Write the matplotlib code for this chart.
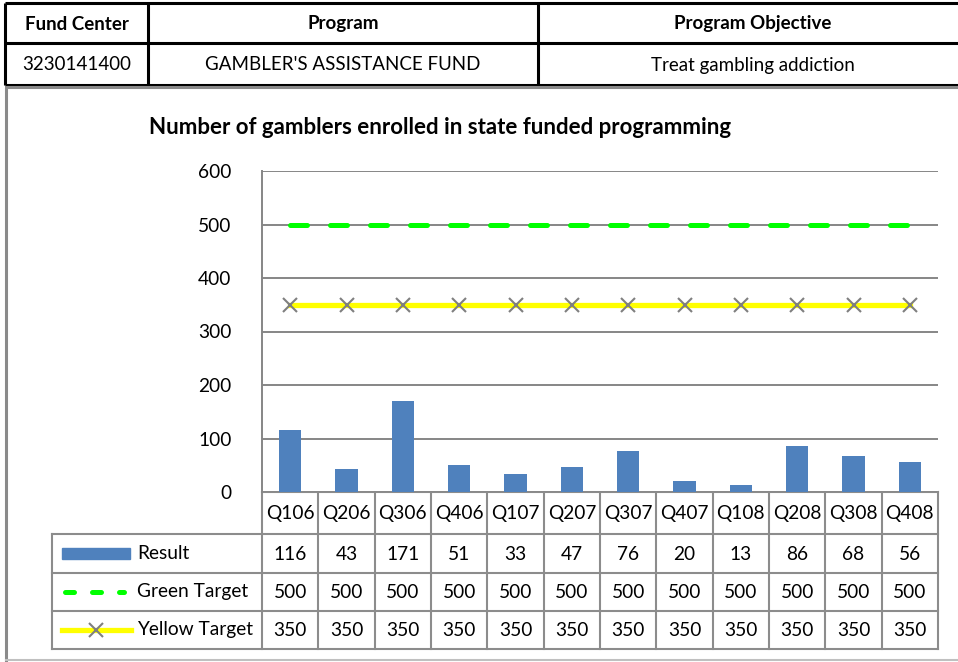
import matplotlib
matplotlib.use("Agg")
import matplotlib.pyplot as plt
from matplotlib.transforms import blended_transform_factory

plt.rcParams['font.family'] = ['Lato', 'DejaVu Sans']

# header table
header_cols = ["Fund Center", "Program", "Program Objective"]
header_vals = ["3230141400", "GAMBLER'S ASSISTANCE FUND", "Treat gambling addiction"]

# chart data
title = "Number of gamblers enrolled in state funded programming"
quarters = ["Q106", "Q206", "Q306", "Q406", "Q107", "Q207", "Q307", "Q407",
            "Q108", "Q208", "Q308", "Q408"]
result = [116, 43, 171, 51, 33, 47, 76, 20, 13, 86, 68, 56]
green_target = [500] * 12
yellow_target = [350] * 12
y_ticks = [0, 100, 200, 300, 400, 500, 600]

BLUE = "#4F81BD"
GREEN = "#00FF00"
YELLOW = "#FFFF00"
GRID = "#868686"
W, H = 958, 662
FS = 13.8

fig = plt.figure(figsize=(W / 100, H / 100), dpi=100)

# overlay in pixel coordinates for the frame / header / table lines
ov = fig.add_axes([0, 0, 1, 1])
ov.set_xlim(0, W)
ov.set_ylim(H, 0)
ov.axis("off")

# header table
col_x = [5, 148, 538, 968]
row_y = [3, 43, 85]
for y in row_y:
    ov.plot([col_x[0], W + 5], [y, y], color="black", lw=2.2, solid_capstyle="butt")
for x in col_x[:-1]:
    ov.plot([x, x], [row_y[0], row_y[-1]], color="black", lw=2.2, solid_capstyle="butt")
for i in range(3):
    cx = (col_x[i] + col_x[i + 1]) / 2
    ov.text(cx, 24, header_cols[i], ha="center", va="center", fontsize=13.5, fontweight="bold")
    ov.text(cx, 65, header_vals[i], ha="center", va="center", fontsize=13.5)

# chart frame
ov.plot([6, 6, W + 5], [660, 87, 87], color="#8a8a8a", lw=2.2)
ov.plot([6, W + 5], [660, 660], color="#c0c0c0", lw=1.5)

ov.text(440, 128, title, ha="center", va="center", fontsize=16, fontweight="bold")

# main plot
left, right, top, bottom = 262, 938, 171, 492
ax = fig.add_axes([left / W, 1 - bottom / H, (right - left) / W, (bottom - top) / H])
x = list(range(len(quarters)))
ax.set_xlim(-0.5, len(quarters) - 0.5)
ax.set_ylim(0, 600)
ax.set_yticks(y_ticks)
ax.yaxis.grid(True, color=GRID, lw=1.4)
ax.set_axisbelow(True)
ax.tick_params(axis="y", length=0, pad=22, labelsize=FS)
ax.set_xticks([])
for s in ["top", "right", "bottom"]:
    ax.spines[s].set_visible(False)
ax.spines["left"].set_color(GRID)
ax.spines["left"].set_linewidth(1.4)

ax.bar(x, result, width=0.4, color=BLUE, zorder=2)
ax.plot(x, green_target, color=GREEN, lw=3.6, linestyle=(0, (3.4, 4.6)),
        dash_capstyle="round", zorder=3)
ax.plot(x, yellow_target, color=YELLOW, lw=3.8, zorder=3,
        marker="x", markersize=10, markeredgecolor="#7f7f7f", markeredgewidth=1.5)

# data table under the axis
tr = blended_transform_factory(ax.transData, ov.transData)
row_edges = [492, 534, 573, 611, 649]
row_lab_left = 52
lc = "#8c8c8c"
for k in range(len(quarters) + 1):
    ov.plot([k - 0.5, k - 0.5], [row_edges[0], row_edges[-1]], color=lc, lw=1.5,
            transform=tr, clip_on=False)
for y in row_edges[1:]:
    ov.plot([row_lab_left, right], [y, y], color=lc, lw=1.5)
ov.plot([left, right], [row_edges[0], row_edges[0]], color=lc, lw=1.5)
ov.plot([row_lab_left, row_lab_left], [row_edges[1], row_edges[-1]], color=lc, lw=1.5)

rows = [quarters, result, green_target, yellow_target]
for r, vals in enumerate(rows):
    cy = (row_edges[r] + row_edges[r + 1]) / 2 + 1
    for i, v in enumerate(vals):
        ov.text(i, cy, str(v), ha="center", va="center", fontsize=FS, transform=tr)

# legend keys in the row label column
names = ["Result", "Green Target", "Yellow Target"]
for r, name in enumerate(names):
    cy = (row_edges[r + 1] + row_edges[r + 2]) / 2
    ov.text(137, cy, name, ha="left", va="center", fontsize=FS)
cy = (row_edges[1] + row_edges[2]) / 2
ov.add_patch(plt.Rectangle((62, cy - 6), 68, 11, color=BLUE))
cy = (row_edges[2] + row_edges[3]) / 2
ov.plot([65, 124], [cy, cy], color=GREEN, lw=3.6, linestyle=(0, (1.8, 3.6)),
        dash_capstyle="round")
cy = (row_edges[3] + row_edges[4]) / 2
ov.plot([62, 131], [cy, cy], color=YELLOW, lw=3.8)
ov.plot([96], [cy], marker="x", markersize=10, markeredgecolor="#7f7f7f",
        markeredgewidth=1.5, color=YELLOW)

fig.savefig("out.png", dpi=100, facecolor="white")
